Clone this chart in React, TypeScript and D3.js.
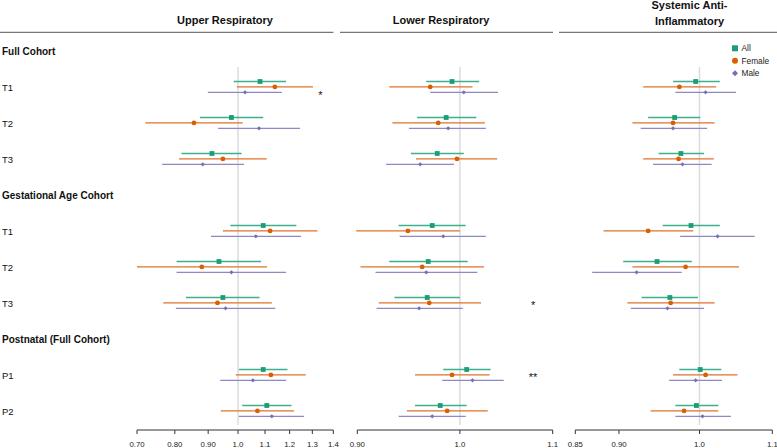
import React from "react";
import * as d3 from "d3";

// ---------- data ----------
const items = [
  { key: "g1", label: "Full Cohort", group: true },
  { key: "r0", label: "T1" },
  { key: "r1", label: "T2" },
  { key: "r2", label: "T3" },
  { key: "g2", label: "Gestational Age Cohort", group: true },
  { key: "r3", label: "T1" },
  { key: "r4", label: "T2" },
  { key: "r5", label: "T3" },
  { key: "g3", label: "Postnatal (Full Cohort)", group: true },
  { key: "r6", label: "P1" },
  { key: "r7", label: "P2" },
];
const rowKeys = ["r0", "r1", "r2", "r3", "r4", "r5", "r6", "r7"];

const seriesNames = ["All", "Female", "Male"];

// [estimate, lower, upper]
const upperAll = [[1.081, 0.985, 1.185], [0.977, 0.874, 1.093], [0.912, 0.819, 1.013], [1.093, 0.973, 1.229], [0.935, 0.805, 1.085], [0.948, 0.832, 1.079], [1.093, 1.003, 1.191], [1.107, 1.015, 1.208]];
const upperFemale = [[1.139, 0.996, 1.303], [0.856, 0.721, 1.017], [0.948, 0.812, 1.107], [1.12, 0.948, 1.324], [0.88, 0.7, 1.108], [0.93, 0.768, 1.127], [1.123, 0.992, 1.27], [1.071, 0.941, 1.219]];
const upperMale = [[1.025, 0.899, 1.167], [1.077, 0.932, 1.245], [0.883, 0.765, 1.021], [1.065, 0.909, 1.249], [0.977, 0.805, 1.185], [0.957, 0.803, 1.141], [1.054, 0.939, 1.185], [1.127, 1.003, 1.263]];

const lowerAll = [[0.992, 0.966, 1.02], [0.986, 0.957, 1.017], [0.977, 0.951, 1.004], [0.972, 0.939, 1.006], [0.968, 0.93, 1.008], [0.967, 0.935, 1.0], [1.007, 0.983, 1.032], [0.98, 0.955, 1.007]];
const lowerFemale = [[0.97, 0.93, 1.013], [0.978, 0.933, 1.026], [0.997, 0.956, 1.039], [0.948, 0.899, 1.0], [0.962, 0.903, 1.025], [0.969, 0.92, 1.022], [0.992, 0.955, 1.031], [0.987, 0.947, 1.029]];
const lowerMale = [[1.004, 0.97, 1.04], [0.988, 0.949, 1.027], [0.96, 0.927, 0.994], [0.983, 0.94, 1.027], [0.966, 0.917, 1.018], [0.959, 0.918, 1.003], [1.013, 0.982, 1.046], [0.972, 0.939, 1.006]];

const systemicAll = [[0.995, 0.966, 1.027], [0.968, 0.935, 1.001], [0.976, 0.948, 1.006], [0.989, 0.953, 1.027], [0.946, 0.905, 0.99], [0.962, 0.927, 0.998], [1.001, 0.974, 1.029], [0.996, 0.969, 1.025]];
const systemicFemale = [[0.974, 0.929, 1.022], [0.966, 0.916, 1.02], [0.973, 0.929, 1.019], [0.935, 0.882, 0.992], [0.982, 0.916, 1.053], [0.963, 0.91, 1.02], [1.008, 0.966, 1.051], [0.98, 0.938, 1.025]];
const systemicMale = [[1.008, 0.969, 1.049], [0.966, 0.926, 1.01], [0.978, 0.941, 1.016], [1.024, 0.975, 1.075], [0.921, 0.869, 0.977], [0.959, 0.914, 1.006], [0.995, 0.961, 1.03], [1.004, 0.969, 1.042]];

const upperTicks = [0.7, 0.8, 0.9, 1.0, 1.1, 1.2, 1.3, 1.4];
const upperTickLabels = ["0.70", "0.80", "0.90", "1.0", "1.1", "1.2", "1.3", "1.4"];
const lowerTicks = [0.9, 1.0, 1.1];
const lowerTickLabels = ["0.90", "1.0", "1.1"];
const systemicTicks = [0.85, 0.9, 1.0, 1.1];
const systemicTickLabels = ["0.85", "0.90", "1.0", "1.1"];

// significance marks: panel index, row index, series index, label
const sigMarks = [
  { panel: 0, row: 0, series: 2, label: "*" },
  { panel: 1, row: 5, series: 1, label: "*" },
  { panel: 1, row: 6, series: 1, label: "**" },
];
const sigValue = [1.338, 1.078, 1.078];

// ---------- layout ----------
const W = 777;
const H = 448;
const colors = ["#1b9e77", "#d95f02", "#7570b3"];
const lineColors = ["#3fb08e", "#e0702a", "#8d89c4"];
const FONT = "'Liberation Sans', Arial, Helvetica, sans-serif";

const panels = [
  {
    title: ["Upper Respiratory"], titleX: 225, lineX: [0, 333.5],
    domain: [0.7, 1.4], range: [137, 333.3],
    ticks: upperTicks, tickLabels: upperTickLabels,
    data: [upperAll, upperFemale, upperMale],
  },
  {
    title: ["Lower Respiratory"], titleX: 441, lineX: [340, 553],
    domain: [0.9, 1.1], range: [357.3, 552.7],
    ticks: lowerTicks, tickLabels: lowerTickLabels,
    data: [lowerAll, lowerFemale, lowerMale],
  },
  {
    title: ["Systemic Anti-", "Inflammatory"], titleX: 689.5, lineX: [559, 777],
    domain: [0.85, 1.1], range: [575.3, 772.3],
    ticks: systemicTicks, tickLabels: systemicTickLabels,
    data: [systemicAll, systemicFemale, systemicMale],
  },
];

const yScale = d3.scalePoint<string>().domain(items.map((d) => d.key)).range([51, 411]);
const seriesOffset = d3.scalePoint<number>().domain([0, 1, 2]).range([-5.5, 5.3]);

function Marker({ series, x, y, size }: { series: number; x: number; y: number; size: number }) {
  const c = colors[series];
  if (series === 0) {
    return <rect x={x - size / 2} y={y - size / 2} width={size} height={size} fill={c} />;
  }
  if (series === 1) {
    return <circle cx={x} cy={y} r={size / 2} fill={c} />;
  }
  const s = size / 2;
  return <path d={`M${x},${y - s}L${x + s},${y}L${x},${y + s}L${x - s},${y}Z`} fill={c} />;
}

export default function App() {
  const axisY = 430;
  return (
    <svg
      width={W}
      height={H}
      style={{ position: "absolute", left: 0, top: 0, background: "#fff" }}
      fontFamily={FONT}
    >
      <rect x={0} y={0} width={W} height={H} fill="#fff" />
      {/* row + group labels */}
      {items.map((it) => (
        <text
          key={it.key}
          x={2}
          y={(yScale(it.key) as number) + 3.5}
          fontSize={it.group ? 10 : 9.5}
          fontWeight={it.group ? "bold" : "normal"}
          fill="#111"
        >
          {it.label}
        </text>
      ))}
      {panels.map((p, pi) => {
        const x = d3.scaleLog().domain(p.domain).range(p.range);
        const x1 = x(1);
        return (
          <g key={pi}>
            {/* title */}
            {p.title.map((t, ti) => (
              <text
                key={ti}
                x={p.titleX}
                y={p.title.length === 1 ? 24 : 9 + ti * 15.5}
                textAnchor="middle"
                fontSize={11}
                fontWeight="bold"
                fill="#111"
              >
                {t}
              </text>
            ))}
            <line x1={p.lineX[0]} x2={p.lineX[1]} y1={32.3} y2={32.3} stroke="#555" strokeWidth={1} />
            {/* reference line */}
            <line x1={x1} x2={x1} y1={67} y2={425} stroke="#dcdcdc" strokeWidth={1.5} />
            {/* intervals */}
            {p.data.map((ser, si) =>
              ser.map((d, ri) => {
                const y = (yScale(rowKeys[ri]) as number) + (seriesOffset(si) as number);
                return (
                  <g key={`${si}-${ri}`}>
                    <line x1={x(d[1])} x2={x(d[2])} y1={y} y2={y} stroke={lineColors[si]} strokeWidth={1.3} />
                    <Marker series={si} x={x(d[0])} y={y} size={si === 2 ? 4.2 : 4.8} />
                  </g>
                );
              })
            )}
            {/* significance */}
            {sigMarks
              .filter((s) => s.panel === pi)
              .map((s, k) => {
                const y = (yScale(rowKeys[s.row]) as number) + (seriesOffset(s.series) as number);
                return (
                  <text key={k} x={x(sigValue[pi])} y={y + 6.5} textAnchor="middle" fontSize={11} fill="#111">
                    {s.label}
                  </text>
                );
              })}
            {/* axis */}
            <line x1={p.range[0]} x2={p.range[1]} y1={axisY} y2={axisY} stroke="#333" strokeWidth={1} />
            {p.ticks.map((t, ti) => (
              <g key={ti}>
                <line x1={x(t)} x2={x(t)} y1={axisY} y2={axisY + 4} stroke="#333" strokeWidth={1} />
                <text x={x(t)} y={axisY + 16.5} textAnchor="middle" fontSize={7.8} fill="#222">
                  {p.tickLabels[ti]}
                </text>
              </g>
            ))}
          </g>
        );
      })}
      {/* legend */}
      {seriesNames.map((n, i) => {
        const ly = 48.3 + i * 12.5;
        return (
          <g key={n}>
            <Marker series={i} x={735} y={ly} size={6} />
            <text x={741.5} y={ly + 3} fontSize={8.3} fill="#222">
              {n}
            </text>
          </g>
        );
      })}
    </svg>
  );
}
